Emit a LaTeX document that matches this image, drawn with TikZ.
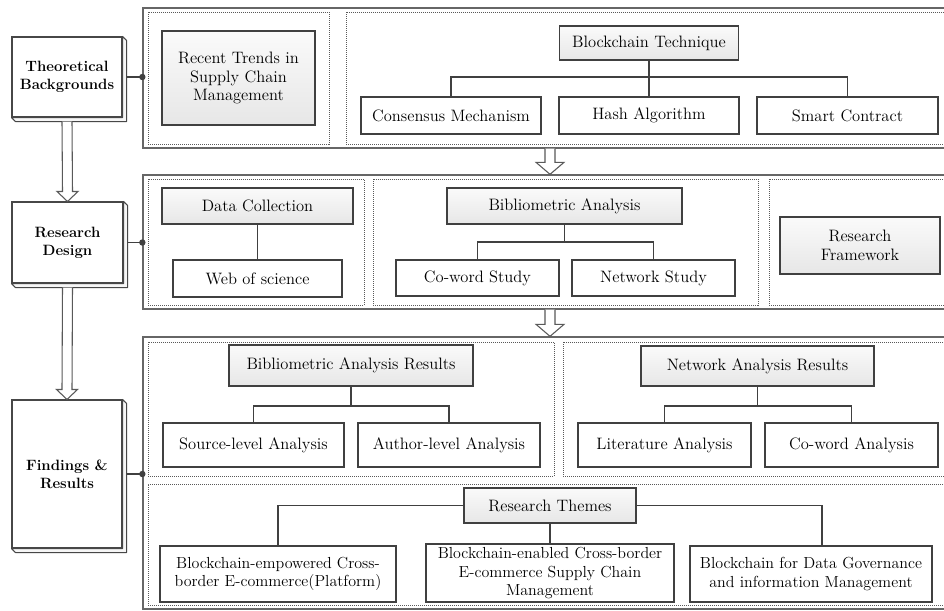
\documentclass[tikz,border=0pt]{standalone}
\usepackage{fontspec}
\usetikzlibrary{calc}
\tikzset{
  sz/.style 2 args={minimum width={#1*0.75pt}, minimum height={#2*0.75pt}},
  box/.style={draw=black!75, line width=0.8pt, fill=white, align=center, inner sep=0pt,
    font=\fontsize{12.4}{14.2}\selectfont},
  headbox/.style={box, top color=gray!4, bottom color=gray!19},
  theme/.style={box, font=\fontsize{12}{14}\selectfont},
  stage/.style={draw=black!72, line width=0.8pt, fill=white, align=center, inner sep=0pt,
    font=\fontsize{11.2}{13.6}\selectfont\bfseries},
  stagedepth/.style={draw=black!72, line width=0.8pt, fill=gray!7, line join=round},
  frame/.style={draw=black!60, line width=1pt, inner sep=0pt},
  zone/.style={draw=black!65, line width=0.7pt, dash pattern=on 0.75pt off 0.75pt, inner sep=0pt},
  link/.style={draw=black!75, line width=0.8pt},
  hollow/.style={draw=black!65, line width=0.8pt, fill=white, line join=miter},
}
% side faces of a raised stage box
\newcommand\stagesides[1]{%
  \draw[stagedepth] (#1.north east) -- ++(4,4) |- ($(#1.south west)+(4,4)$)
    -- (#1.south west) -- (#1.south east) -- cycle;}
% hollow block arrow: tail, tip, head half-width, head length
\newcommand\hollowarrow[4]{%
  \draw[hollow] ($(#1)+(-5,0)$) -- ($(#2)+(-5,-#4)$) -- ($(#2)+(-#3,-#4)$) -- (#2)
    -- ($(#2)+(#3,-#4)$) -- ($(#2)+(5,-#4)$) -- ($(#1)+(5,0)$);}
\begin{document}
\begin{tikzpicture}[x=0.75pt,y=-0.75pt]
\useasboundingbox (0,0) rectangle (944,610);
\fill[white] (0,0) rectangle (944,610);
\begin{scope}
\clip (0,0) rectangle (944,610);

% ---------- outer frames and dotted zones ----------
\node[frame, sz={807}{140}] (f1) at (546.5,78) {};
\node[zone, sz={181}{132}] (zA) at (238.5,78) {};
\node[zone, sz={604}{132}] (zB) at (648,78) {};

\node[frame, sz={807}{134}] (f2) at (546.5,242) {};
\node[zone, sz={216}{126}] (zC) at (256,242) {};
\node[zone, sz={385}{126}] (zD) at (565.5,242) {};
\node[zone, sz={181}{126}] (zE) at (859.5,242) {};

\node[frame, sz={807}{272}] (f3) at (546.5,473) {};
\node[zone, sz={406}{134}] (zF) at (351,409) {};
\node[zone, sz={387}{134}] (zG) at (756.5,409) {};
\node[zone, sz={802}{121}] (zH) at (549,544.5) {};

% ---------- stages on the left ----------
\node[stage, sz={110}{80}] (tb) at (67,77) {Theoretical\\Backgrounds};
\stagesides{tb}
\node[stage, sz={111}{81}] (rd) at (67.5,242.5) {Research\\Design};
\stagesides{rd}
\node[stage, sz={110}{148}] (fr) at (67,474) {Findings \&\\Results};
\stagesides{fr}

\coordinate (t1a) at ($(tb.south)+(0,4)$);
\coordinate (t1b) at (rd.north);
\hollowarrow{t1a}{t1b}{10.5}{10}
\coordinate (t2a) at ($(rd.south)+(0,4)$);
\coordinate (t2b) at (fr.north);
\hollowarrow{t2a}{t2b}{10.5}{10}

\foreach \s/\f in {tb/f1, rd/f2, fr/f3}{
  \draw[link] ($(\s.east)+(4,0)$) -- (\f.west |- \s.east);
  \fill[black!75] (\f.west |- \s.east) circle (3.2);
}

% arrows between the frames
\coordinate (axis) at (550,0);
\coordinate (m1a) at (f1.south -| axis);
\coordinate (m1b) at (f2.north -| axis);
\hollowarrow{m1a}{m1b}{14}{12}
\coordinate (m2a) at (f2.south -| axis);
\coordinate (m2b) at (f3.north -| axis);
\hollowarrow{m2a}{m2b}{14}{12}

% ---------- theoretical backgrounds ----------
\node[headbox, sz={153}{94}] (trends) at (238.5,78) {Recent Trends in\\Supply Chain\\Management};
\node[headbox, sz={179}{34}] (chain) at (649,43) {Blockchain Technique};
\node[box, sz={180}{37}] (consensus) at (451,115.5) {Consensus Mechanism};
\node[box, sz={180}{37}] (hash) at (649,115.5) {Hash Algorithm};
\node[box, sz={181}{37}] (smart) at (847.5,115.5) {Smart Contract};
\coordinate (lvl1) at (0,77);
\draw[link] (chain.south) -- (chain.south |- lvl1);
\draw[link] (consensus.north) |- (smart.north |- lvl1) -- (smart.north);
\draw[link] (hash.north) -- (hash.north |- lvl1);

% ---------- research design ----------
\node[headbox, sz={191}{36}] (collect) at (257.5,206) {Data Collection};
\node[box, sz={169}{37}] (wos) at (257.5,278.5) {Web of science};
\draw[link] (collect.south) -- (wos.north);

\node[headbox, sz={235}{36}] (biblio) at (564.5,206) {Bibliometric Analysis};
\node[box, sz={163}{36}] (coword) at (477.5,278) {Co-word Study};
\node[box, sz={163}{36}] (netstudy) at (653.5,278) {Network Study};
\coordinate (lvl2) at (0,242);
\draw[link] (biblio.south) -- (biblio.south |- lvl2);
\draw[link] (coword.north) |- (netstudy.north |- lvl2) -- (netstudy.north);

\node[headbox, sz={160}{57}] (frameworkbox) at (860,245.5) {Research\\Framework};

% ---------- findings and results ----------
\node[headbox, sz={244}{41}] (bres) at (351,365.5) {Bibliometric Analysis Results};
\node[box, sz={181}{44}] (source) at (253.5,445) {Source-level Analysis};
\node[box, sz={182}{44}] (author) at (449,445) {Author-level Analysis};
\node[headbox, sz={233}{40}] (nres) at (757.5,366) {Network Analysis Results};
\node[box, sz={173}{44}] (lit) at (664.5,445) {Literature Analysis};
\node[box, sz={173}{44}] (cowa) at (851.5,445) {Co-word Analysis};
\coordinate (lvl3) at (0,406);
\draw[link] (bres.south) -- (bres.south |- lvl3);
\draw[link] (source.north) |- (author.north |- lvl3) -- (author.north);
\draw[link] (nres.south) -- (nres.south |- lvl3);
\draw[link] (lit.north) |- (cowa.north |- lvl3) -- (cowa.north);

\node[headbox, sz={172}{35}] (themes) at (550,505.5) {Research Themes};
\node[theme, sz={236}{56}] (th1) at (278,574) {Blockchain-empowered Cross-\\border E-commerce(Platform)};
\node[theme, sz={248}{58}, font=\fontsize{12}{13.6}\selectfont] (th2) at (550,573) {Blockchain-enabled Cross-border\\E-commerce Supply Chain\\Management};
\node[theme, sz={242}{56}] (th3) at (811,574) {Blockchain for Data Governance\\and information Management};
\draw[link] (themes.west) -| (th1.north);
\draw[link] (themes.south) -- (th2.north);
\coordinate (th3drop) at ($(th3.north)+(11,0)$);
\draw[link] (themes.east) -| (th3drop);
\end{scope}
\end{tikzpicture}
\end{document}
